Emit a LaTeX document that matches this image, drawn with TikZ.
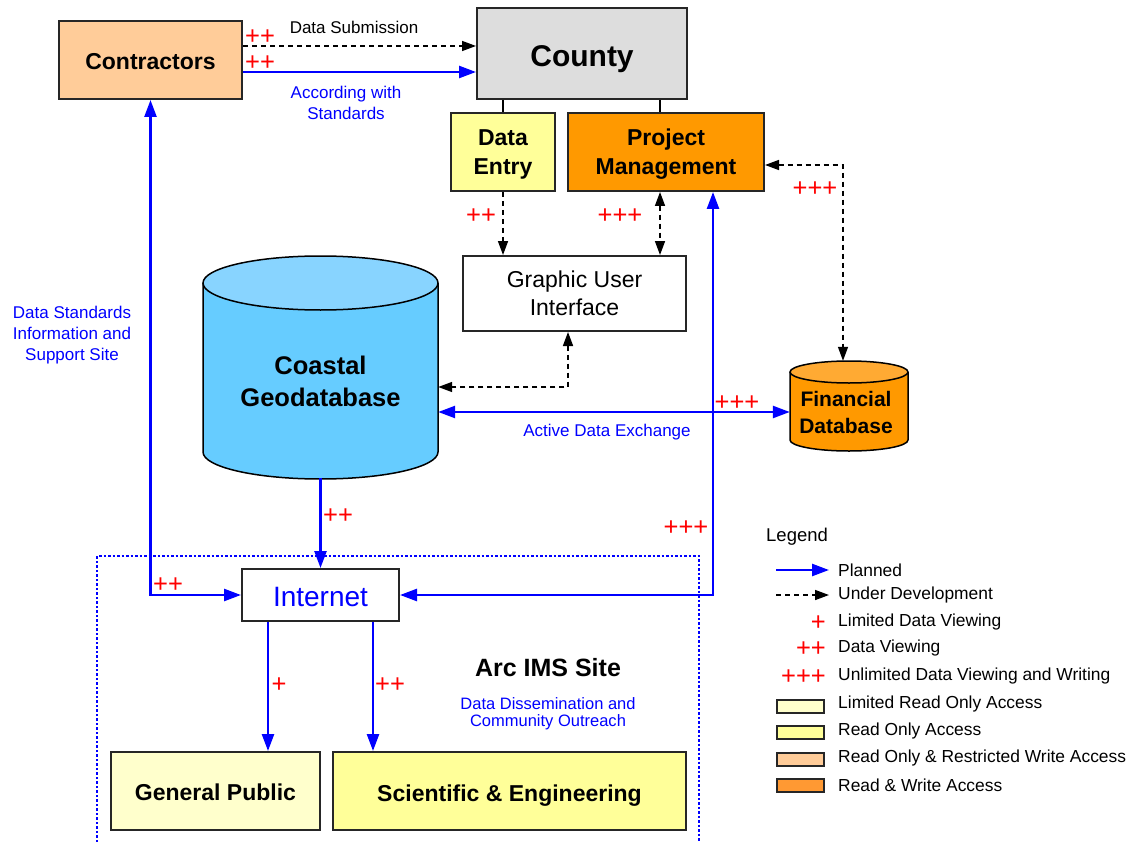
\documentclass[tikz,border=0pt]{standalone}
\usepackage{fontspec}
\setmainfont{Liberation Sans}
\usetikzlibrary{arrows.meta}
\definecolor{peach}{HTML}{FFCC99}
\definecolor{lgray}{HTML}{DDDDDD}
\definecolor{lyel}{HTML}{FFFF99}
\definecolor{pyel}{HTML}{FFFFCC}
\definecolor{orng}{HTML}{FF9900}
\definecolor{lorng}{HTML}{FF9933}
\definecolor{forng}{HTML}{FFAA33}
\definecolor{cyanb}{HTML}{66CCFF}
\definecolor{cyant}{HTML}{88D4FF}
\definecolor{bl}{HTML}{0000FF}
\definecolor{rd}{HTML}{FF0000}
\begin{document}
\begin{tikzpicture}[x=1pt,y=-1pt,
  box/.style={draw=black!85, line width=2pt, inner sep=0pt, align=center},
  bt/.style={font=\fontsize{23}{29}\selectfont\bfseries},
  plain/.style={inner sep=0pt, align=center},
  lbl/.style={plain, font=\fontsize{17}{21}\selectfont},
  blbl/.style={lbl, text=bl},
  plus/.style={plain, text=rd, font=\fontsize{25.5}{25}\selectfont},
  leg/.style={plain, anchor=west, font=\fontsize{17.4}{21}\selectfont},
  plan/.style={draw=bl, line width=2.5pt, -{Triangle[length=17pt,width=12pt]}},
  planboth/.style={draw=bl, line width=2.5pt, {Triangle[length=17pt,width=12pt]}-{Triangle[length=17pt,width=12pt]}},
  dev/.style={draw=black, line width=1.5pt, dash pattern=on 5pt off 4pt, -{Triangle[length=14pt,width=10pt]}},
  devboth/.style={draw=black, line width=1.5pt, dash pattern=on 5pt off 4pt, {Triangle[length=14pt,width=10pt]}-{Triangle[length=14pt,width=10pt]}},
  legbox/.style={draw=black!85, line width=2pt},
  cyl/.style={draw=black, line width=1.5pt}
]
\useasboundingbox (0,0) rectangle (1131,842);

% Arc IMS site boundary
\draw[bl, line width=2pt, dash pattern=on 2.5pt off 2pt] (97,842) -- (97,556) -- (699,556) -- (699,842);

% Coastal geodatabase cylinder
\fill[cyanb] (203,283) -- (203,452) arc[start angle=180, end angle=0, x radius=117.5, y radius=27] -- (438,283) -- cycle;
\draw[cyl] (203,283) -- (203,452) arc[start angle=180, end angle=0, x radius=117.5, y radius=27] -- (438,283);
\draw[cyl, fill=cyant] (320.5,283) ellipse[x radius=117.5, y radius=27];
\node[plain, minimum width=235, minimum height=222] (coast) at (320.5,367) {};
\node[plain, font=\fontsize{25.5}{32}\selectfont\bfseries] (coastt) at (320.5,381.5) {Coastal\\Geodatabase};

% Financial database cylinder
\fill[orng] (790,372) -- (790,440) arc[start angle=180, end angle=0, x radius=59, y radius=11] -- (908,372) -- cycle;
\draw[cyl] (790,372) -- (790,440) arc[start angle=180, end angle=0, x radius=59, y radius=11] -- (908,372);
\draw[cyl, fill=forng] (849,372) ellipse[x radius=59, y radius=11];
\node[plain, minimum width=118, minimum height=90] (fin) at (849,406) {};
\node[plain, font=\fontsize{21}{27}\selectfont\bfseries] (fint) at (846,412) {Financial\\Database};

% Boxes
\node[box, bt, fill=peach, minimum width=183, minimum height=78, text height=20pt, text depth=0pt] (cont) at (150.5,60) {Contractors};
\node[box, fill=lgray, minimum width=210, minimum height=91, font=\fontsize{30}{36}\selectfont\bfseries, text height=26pt, text depth=0pt] (county) at (582,53.5) {County};
\node[box, bt, fill=lyel, minimum width=104, minimum height=78, text depth=0pt] (de) at (503,152) {Data\\Entry};
\node[box, bt, fill=orng, minimum width=196, minimum height=78, text depth=0pt] (pm) at (666,152) {Project\\Management};
\node[box, fill=white, minimum width=223, minimum height=75, font=\fontsize{23}{28}\selectfont] (gui) at (574.5,293.5) {Graphic User\\Interface};
\node[box, fill=white, minimum width=157, minimum height=52, text=bl, font=\fontsize{28}{32}\selectfont, text height=23pt, text depth=0pt] (inet) at (320.5,595) {Internet};
\node[box, bt, fill=pyel, minimum width=209, minimum height=78, text height=19pt, text depth=0pt] (gp) at (215.5,791) {General Public};
\node[box, bt, fill=lyel, minimum width=353, minimum height=78, text height=20.5pt, text depth=0pt] (se) at (509.5,791) {Scientific \& Engineering};

% County to sub-boxes
\draw[line width=1.5pt] (de.north) -- (de.north |- county.south);
\draw[line width=1.5pt] ([xshift=-6pt]pm.north) -- ([xshift=-6pt]pm.north |- county.south);

% Connectors
\draw[dev] (cont.east |- 0,46) -- (county.west |- 0,46);
\draw[plan] (cont.east |- 0,72) -- (county.west |- 0,72);
\draw[dev] (de.south) -- (de.south |- gui.north);
\draw[devboth] ([xshift=-6pt]pm.south) -- ([xshift=-6pt]pm.south |- gui.north);
\draw[devboth] ([yshift=-13pt]pm.east) -| ([xshift=-6pt]fin.north);
\draw[devboth] ([xshift=-6.5pt]gui.south) |- (coast.east |- 0,387);
\draw[planboth] (coast.east |- 0,412) -- (fin.west |- 0,412);
\draw[planboth] (cont.south) |- (inet.west);
\draw[planboth] ([xshift=47pt]pm.south) |- (inet.east);
\draw[plan] (coast.south) -- (inet.north);
\draw[plan] (inet.south -| 268,0) -- (gp.north -| 268,0);
\draw[plan] (inet.south -| 373,0) -- (se.north -| 373,0);

% Access marks
\node[plus] (p1) at (260,37) {++};
\node[plus] (p2) at (260,63) {++};
\node[plus] (p3) at (481,216) {++};
\node[plus] (p4) at (620,216) {+++};
\node[plus] (p5) at (815,189) {+++};
\node[plus] (p6) at (737,403) {+++};
\node[plus] (p7) at (338,516) {++};
\node[plus] (p8) at (686,528) {+++};
\node[plus] (p9) at (168,585) {++};
\node[plus] (p10) at (279,685) {+};
\node[plus] (p11) at (390,685) {++};

% Labels
\node[lbl] (l1) at (354,27) {Data Submission};
\node[blbl] (l2) at (346,102.5) {According with\\Standards};
\node[blbl] (l3) at (72,335) {Data Standards\\Information and\\Support Site};
\node[blbl] (l4) at (607,432) {Active Data Exchange};
\node[plain, font=\fontsize{25}{30}\selectfont\bfseries] (l5) at (548,668) {Arc IMS Site};
\node[plain, text=bl, font=\fontsize{16.5}{17}\selectfont] (l6) at (548,713.5) {Data Dissemination and\\Community Outreach};

% Legend
\node[leg, font=\fontsize{18.5}{21}\selectfont] (legt) at (766,537) {Legend};
\coordinate (la1) at (776,570); \coordinate (lb1) at (829,570);
\draw[plan] (la1) -- (lb1);
\node[leg] (lg1) at (838,570) {Planned};
\coordinate (la2) at (776,595); \coordinate (lb2) at (829,595);
\draw[dev] (la2) -- (lb2);
\node[leg] (lg2) at (838,595) {Under Development};
\node[plus, anchor=east] (lp1) at (826,623) {+};
\node[leg] (lg3) at (838,622) {Limited Data Viewing};
\node[plus, anchor=east] (lp2) at (826,649) {++};
\node[leg] (lg4) at (838,648) {Data Viewing};
\node[plus, anchor=east] (lp3) at (826,677) {+++};
\node[leg] (lg5) at (838,676) {Unlimited Data Viewing and Writing};
\draw[legbox, fill=pyel] (777,700) rectangle (824,713);
\node[leg] (lg6) at (838,704) {Limited Read Only Access};
\draw[legbox, fill=lyel] (777,726) rectangle (824,739);
\node[leg] (lg7) at (838,731) {Read Only Access};
\draw[legbox, fill=peach] (777,753) rectangle (824,766);
\node[leg] (lg8) at (838,758) {Read Only \& Restricted Write Access};
\draw[legbox, fill=lorng] (777,779) rectangle (824,792);
\node[leg] (lg9) at (838,785) {Read \& Write Access};
\end{tikzpicture}
\end{document}
